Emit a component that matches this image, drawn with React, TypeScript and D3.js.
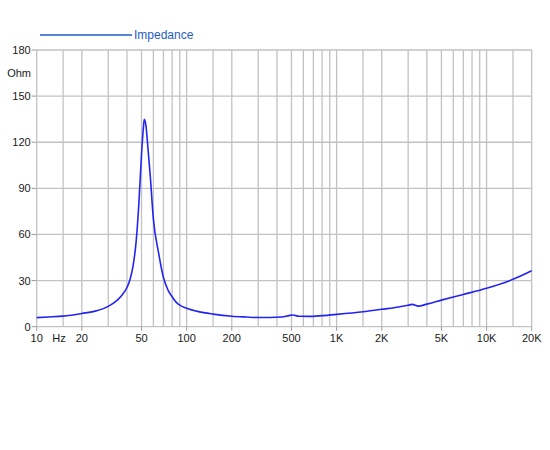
import React from "react";
import * as d3 from "d3";

// Impedance curve (Hz, Ohm)
const freqs = [
  10, 12, 15, 20, 25, 30, 34, 37, 40, 42, 44, 46, 48, 50, 51.5, 52.2, 53.5, 55, 57, 60,
  65, 70, 75, 80, 85, 90, 100, 120, 150, 200, 250, 300, 360, 430, 480, 510, 560, 650,
  800, 1000, 1500, 2000, 2600, 3000, 3200, 3500, 4000, 5000, 7000, 10000, 15000, 20000,
];
const impedance = [
  5.9, 6.3, 6.9, 8.6, 10.3, 13.2, 16.8, 20.5, 25.5, 31, 40, 55, 80, 112, 130, 135, 131, 118, 100, 70,
  48, 32, 24, 19.5, 16, 14, 12, 9.8, 8.2, 6.8, 6.3, 6.0, 6.0, 6.3, 7.2, 7.6, 6.8, 6.7,
  7.2, 8, 9.7, 11.3, 12.8, 14, 14.5, 13.4, 14.7, 17.3, 21, 25, 30.8, 36.4,
];

const yTicks = [0, 30, 60, 90, 120, 150, 180];
const gridFreqs = [
  10, 15, 20, 30, 40, 50, 60, 70, 80, 90,
  100, 150, 200, 300, 400, 500, 600, 700, 800, 900,
  1000, 1500, 2000, 3000, 4000, 5000, 6000, 7000, 8000, 9000,
  10000, 15000, 20000,
];
const xTickValues = [10, 20, 50, 100, 200, 500, 1000, 2000, 5000, 10000, 20000];
const xTickLabels = ["10", "20", "50", "100", "200", "500", "1K", "2K", "5K", "10K", "20K"];

const font = "'Liberation Sans', Arial, sans-serif";
const gridColor = "#c2c2c2";
const curveColor = "#2424f2";
const legendColor = "#1f5cc6";

export default function App() {
  const width = 550;
  const height = 450;
  const left = 36.7;
  const right = 531.7;
  const top = 50;
  const bottom = 326.7;

  const x = d3.scaleLog().domain([10, 20000]).range([left, right]);
  const y = d3.scaleLinear().domain([0, 180]).range([bottom, top]);

  const points = freqs.map((f, i) => [f, impedance[i]] as [number, number]);
  const line = d3
    .line<[number, number]>()
    .x((d) => x(d[0]))
    .y((d) => y(d[1]))
    .curve(d3.curveMonotoneX);

  return (
    <svg
      width={width}
      height={height}
      style={{ position: "absolute", left: 0, top: 0, background: "#fff" }}
      fontFamily={font}
    >
      {/* legend */}
      <line x1={40} x2={132} y1={35} y2={35} stroke={legendColor} strokeWidth={1.5} />
      <text x={134} y={39} fontSize={12} fill={legendColor}>
        Impedance
      </text>

      {/* horizontal grid + y ticks */}
      {yTicks.map((t) => (
        <g key={t}>
          <line x1={left} x2={right} y1={y(t)} y2={y(t)} stroke={gridColor} strokeWidth={1.3} />
          <line x1={left - 5} x2={left} y1={y(t)} y2={y(t)} stroke="#999" strokeWidth={1} />
          <text x={left - 6} y={y(t) + 4} fontSize={11} textAnchor="end" fill="#1a1a1a">
            {t}
          </text>
        </g>
      ))}
      <text x={31} y={77} fontSize={11} textAnchor="end" fill="#1a1a1a">
        Ohm
      </text>

      {/* vertical grid */}
      {gridFreqs.map((f) => (
        <line key={f} x1={x(f)} x2={x(f)} y1={top} y2={bottom} stroke={gridColor} strokeWidth={1.3} />
      ))}

      {/* x ticks */}
      {xTickValues.map((f, i) => (
        <g key={f}>
          <line x1={x(f)} x2={x(f)} y1={bottom} y2={bottom + 4} stroke="#999" strokeWidth={1} />
          <text x={x(f)} y={342} fontSize={11} textAnchor="middle" fill="#1a1a1a">
            {xTickLabels[i]}
          </text>
        </g>
      ))}
      <text x={59} y={342} fontSize={11} textAnchor="middle" fill="#1a1a1a">
        Hz
      </text>

      {/* curve */}
      <path d={line(points) || ""} fill="none" stroke={curveColor} strokeWidth={1.6} strokeLinejoin="round" />
    </svg>
  );
}
